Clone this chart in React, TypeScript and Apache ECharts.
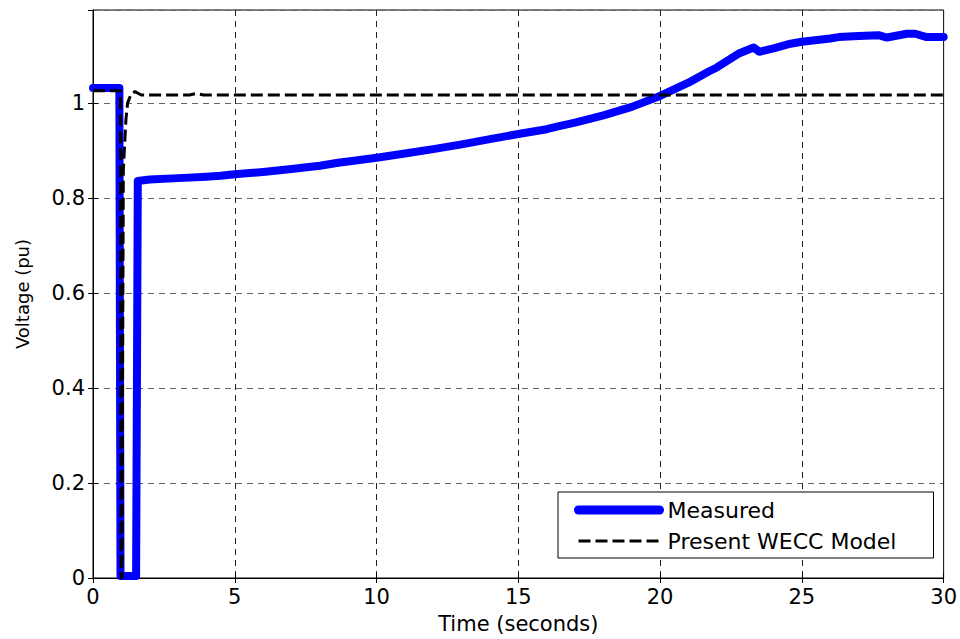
import React, { useEffect, useRef } from "react";
import * as echarts from "echarts";

const measuredTime = [
  0, 0.93, 0.97, 1.52, 1.58, 2, 3, 4, 4.5, 5, 6, 7, 8, 8.7, 9, 10, 11, 12, 13, 14, 15, 16, 16.4, 17, 18, 19, 20,
  21, 21.7, 22, 22.8, 23.3, 23.5, 24, 24.6, 25, 26, 26.3, 27, 27.7, 28, 28.7, 29, 29.4, 30,
];
const measuredVoltage = [
  1.032, 1.032, 0.004, 0.004, 0.836, 0.839, 0.842, 0.845, 0.847, 0.85, 0.855, 0.861, 0.868, 0.875, 0.877, 0.885,
  0.894, 0.903, 0.913, 0.924, 0.935, 0.945, 0.951, 0.959, 0.974, 0.992, 1.015, 1.043, 1.066, 1.075, 1.105, 1.117,
  1.108, 1.115, 1.125, 1.129, 1.136, 1.139, 1.141, 1.143, 1.138, 1.146, 1.146, 1.139, 1.139,
];

const modelTime = [0, 0.97, 0.99, 1.02, 1.07, 1.16, 1.22, 1.35, 1.48, 1.7, 3.4, 3.64, 3.9, 30];
const modelVoltage = [1.026, 1.026, 0.0, 0.0, 0.86, 0.964, 1.0, 1.02, 1.024, 1.017, 1.017, 1.02, 1.017, 1.017];

const xTickValues = [0, 5, 10, 15, 20, 25, 30];
const yTickValues = [0, 0.2, 0.4, 0.6, 0.8, 1];

const seriesNames = ["Measured", "Present WECC Model"];

const FONT = "DejaVu Sans";

export default function App() {
  const ref = useRef<HTMLDivElement>(null);

  useEffect(() => {
    if (!ref.current) return;
    const chart = echarts.init(ref.current, undefined, { renderer: "svg" });
    const measured = measuredTime.map((t, i) => [t, measuredVoltage[i]]);
    const model = modelTime.map((t, i) => [t, modelVoltage[i]]);

    const xMin = xTickValues[0];
    const xMax = xTickValues[xTickValues.length - 1];
    const yMax = 1.196;

    chart.setOption({
      animation: false,
      backgroundColor: "#ffffff",
      textStyle: { fontFamily: FONT },
      grid: {
        left: 93,
        right: 14,
        top: 10,
        bottom: 60,
        show: true,
        borderColor: "#000",
        borderWidth: 1,
        backgroundColor: "transparent",
      },
      xAxis: [
        {
          type: "value",
          min: xMin,
          max: xMax,
          interval: 5,
          position: "bottom",
          name: "Time (seconds)",
          nameLocation: "middle",
          nameGap: 35,
          nameTextStyle: { fontFamily: FONT, fontSize: 21, color: "#000" },
          axisLine: { show: true, lineStyle: { color: "#000", width: 1 } },
          axisTick: { show: true, inside: true, length: 5, lineStyle: { color: "#000" } },
          axisLabel: { fontFamily: FONT, fontSize: 21, color: "#000", margin: 8 },
          splitLine: { show: true, lineStyle: { color: "#222", width: 1, type: [6, 5] } },
        },
        {
          type: "value",
          min: xMin,
          max: xMax,
          interval: 5,
          position: "top",
          axisLine: { show: true, lineStyle: { color: "#000", width: 1 } },
          axisTick: { show: true, inside: true, length: 5, lineStyle: { color: "#000" } },
          axisLabel: { show: false },
          splitLine: { show: false },
        },
      ],
      yAxis: [
        {
          type: "value",
          min: 0,
          max: yMax,
          interval: 0.2,
          position: "left",
          name: "Voltage (pu)",
          nameLocation: "middle",
          nameGap: 62,
          nameTextStyle: { fontFamily: FONT, fontSize: 18, color: "#000" },
          axisLine: { show: true, lineStyle: { color: "#000", width: 1 } },
          axisTick: { show: true, inside: true, length: 5, lineStyle: { color: "#000" } },
          axisLabel: {
            fontFamily: FONT,
            fontSize: 21,
            color: "#000",
            margin: 8,
            showMaxLabel: false,
            formatter: (v: number) => {
              const hit = yTickValues.find((t) => Math.abs(t - v) < 1e-6);
              return hit === undefined ? "" : String(hit);
            },
          },
          splitLine: { show: true, lineStyle: { color: "#666", width: 1, type: [6, 5] } },
        },
        {
          type: "value",
          min: 0,
          max: yMax,
          interval: 0.2,
          position: "right",
          axisLine: { show: true, lineStyle: { color: "#000", width: 1 } },
          axisTick: { show: true, inside: true, length: 5, lineStyle: { color: "#000" } },
          axisLabel: { show: false },
          splitLine: { show: false },
        },
      ],
      legend: {
        orient: "vertical",
        left: 558,
        top: 492,
        padding: [7, 5, 6, 16],
        itemGap: 9,
        itemWidth: 81,
        itemHeight: 22,
        backgroundColor: "#fff",
        borderColor: "#000",
        borderWidth: 1,
        borderRadius: 0,
        textStyle: { fontFamily: FONT, fontSize: 22, color: "#000", width: 261, padding: [0, 0, 0, 3], lineHeight: 22 },
        data: [
          {
            name: seriesNames[0],
            itemStyle: { opacity: 0 },
            lineStyle: { width: 9, color: "#0000ff", type: "solid" },
          },
          {
            name: seriesNames[1],
            itemStyle: { opacity: 0 },
            lineStyle: { width: 3, color: "#000", type: [12, 5] },
          },
        ],
      },
      series: [
        {
          name: seriesNames[0],
          type: "line",
          xAxisIndex: 0,
          yAxisIndex: 0,
          data: measured,
          symbol: "none",
          showSymbol: false,
          lineStyle: { color: "#0000ff", width: 8, join: "round", cap: "round" },
          itemStyle: { color: "#0000ff" },
          z: 3,
        },
        {
          name: seriesNames[1],
          type: "line",
          xAxisIndex: 0,
          yAxisIndex: 0,
          data: model,
          symbol: "none",
          showSymbol: false,
          lineStyle: { color: "#000", width: 3, type: [12, 5] },
          itemStyle: { color: "#000" },
          z: 4,
        },
      ],
    });
    return () => chart.dispose();
  }, []);

  return (
    <div
      ref={ref}
      style={{ position: "fixed", left: 0, top: 0, width: 960, height: 639, background: "#fff" }}
    />
  );
}
